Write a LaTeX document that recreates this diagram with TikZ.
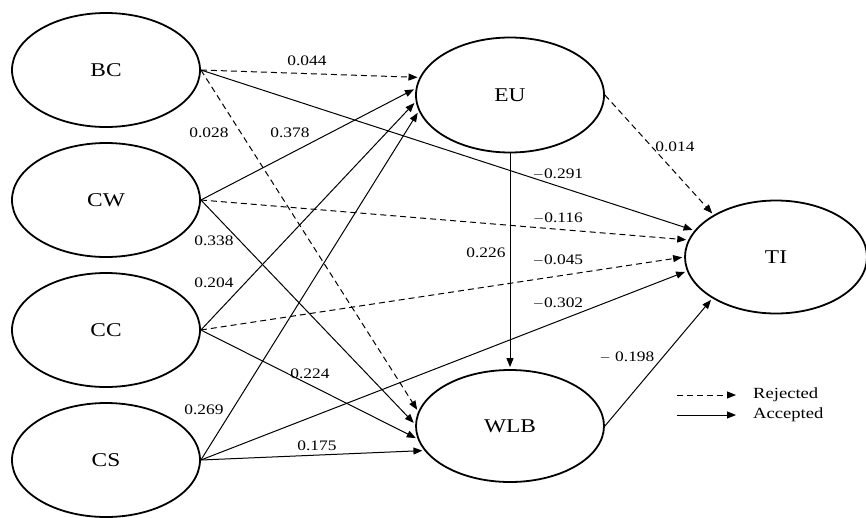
\documentclass[tikz,border=0pt]{standalone}
\usepackage{fontspec}
\setmainfont{Liberation Serif}[FakeStretch=1.2]
\usetikzlibrary{arrows.meta,shapes.geometric}

\begin{document}
\begin{tikzpicture}[x=1pt,y=-1pt,
  construct/.style={ellipse,draw,line width=1.8pt,minimum width=188pt,
    minimum height=114pt,inner sep=0pt,font=\fontsize{19.5}{22}\selectfont},
  link/.style={line width=1pt,-{Triangle[length=9pt,width=7pt]},shorten >=2pt},
  acc/.style={link},
  rej/.style={link,dash pattern=on 6pt off 4pt},
  coef/.style={font=\fontsize{14.5}{16}\selectfont,inner sep=1pt},
  legtext/.style={font=\fontsize{15.5}{17}\selectfont,anchor=west,inner sep=0pt}]

\useasboundingbox (0,0) rectangle (866,517);

% latent constructs
\node[construct] (BC) at (106,70)  {BC};
\node[construct] (CW) at (106,200) {CW};
\node[construct] (CC) at (106,330) {CC};
\node[construct] (CS) at (106,460) {CS};
\node[construct,minimum height=115pt] (EU) at (510,95)  {EU};
\node[construct,minimum height=112pt] (WLB) at (510,426) {WLB};
\node[construct,minimum width=182pt,minimum height=113pt] (TI) at (776,257) {TI};

% paths into EU
\draw[rej] (BC.east) -- (EU.169.5);
\draw[acc] (CW.east) -- (EU.176.5);
\draw[acc] (CC.east) -- (EU.184.5);
\draw[acc] (CS.east) -- (EU.190.5);

% paths into WLB
\draw[rej] (BC.east) -- (WLB.171.3);
\draw[acc] (CW.east) -- (WLB.179.5);
\draw[acc] (CC.east) -- (WLB.188.4);
\draw[acc] (CS.east) -- (WLB.196.5);
\draw[acc] (EU.south) -- (WLB.north);

% paths into TI
\draw[acc] (BC.east) -- (TI.162.7);
\draw[rej] (CW.east) -- (TI.169.9);
\draw[rej] (CC.east) -- (TI.180);
\draw[acc] (CS.east) -- (TI.189);
\draw[rej] (EU.east) -- (TI.146.3);
\draw[acc] (WLB.east) -- (TI.213);

% path coefficients
\node[coef] (cBCEU)  at (307,61)  {0.044};
\node[coef] (cBCWLB) at (209,133) {0.028};
\node[coef] (cCWEU)  at (290,133) {0.378};
\node[coef] (cCWWLB) at (214,241) {0.338};
\node[coef] (cCCEU)  at (214,283) {0.204};
\node[coef] (cCCWLB) at (310,374) {0.224};
\node[coef] (cCSEU)  at (204,410) {0.269};
\node[coef] (cCSWLB) at (317,446) {0.175};
\node[coef] (cBCTI)  at (558,174) {$-$0.291};
\node[coef] (cCWTI)  at (558,218) {$-$0.116};
\node[coef] (cCCTI)  at (558,260) {$-$0.045};
\node[coef] (cCSTI)  at (558,303) {$-$0.302};
\node[coef] (cEUTI)  at (675,147) {0.014};
\node[coef] (cEUWLB) at (486,253) {0.226};
\node[coef] (cWLBTI) at (627,357) {$-$ 0.198};

% legend
\coordinate (r1) at (677,395);
\coordinate (r2) at (736,395);
\coordinate (a1) at (677,415);
\coordinate (a2) at (736,415);
\draw[rej,shorten >=0pt] (r1) -- (r2);
\draw[acc,shorten >=0pt] (a1) -- (a2);
\node[legtext] (lrej) at (753,395) {Rejected};
\node[legtext] (lacc) at (753,415) {Accepted};
\end{tikzpicture}
\end{document}
